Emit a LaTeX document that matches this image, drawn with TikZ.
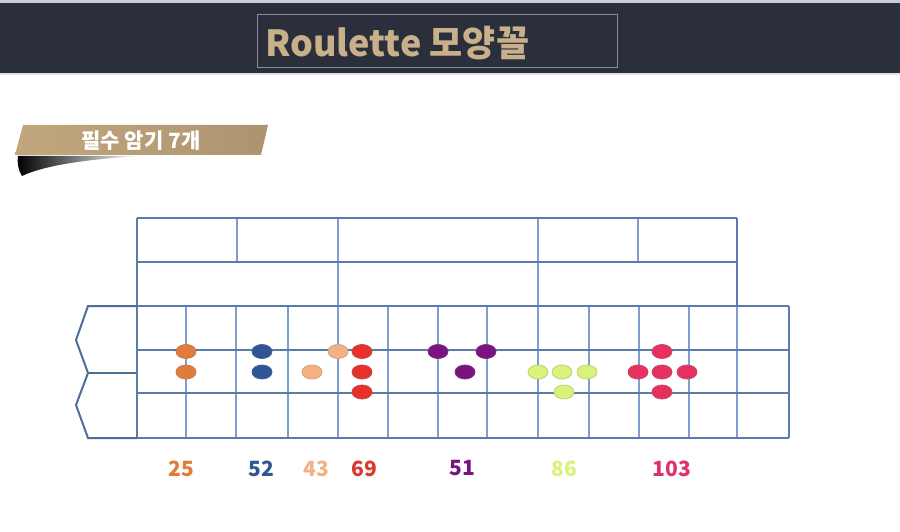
\documentclass[tikz,border=0pt]{standalone}
\usepackage{fontspec}
\setmainfont{Noto Sans CJK KR}
\usetikzlibrary{shapes.geometric}
\definecolor{hdr}{HTML}{2B2E3B}
\definecolor{hdrtop}{HTML}{C9CDD6}
\definecolor{titlec}{HTML}{C8B08A}
\definecolor{boxc}{HTML}{8A8E9A}
\definecolor{gridh}{HTML}{5B7BAB}
\definecolor{gridv}{HTML}{7C9FCF}
\definecolor{zeroc}{HTML}{4F6D96}
\definecolor{cOrange}{HTML}{E07B39}
\definecolor{cBlue}{HTML}{2F5597}
\definecolor{cPeach}{HTML}{F4B183}
\definecolor{cRed}{HTML}{E8302A}
\definecolor{cRedT}{HTML}{D93A2B}
\definecolor{cPurple}{HTML}{7B1280}
\definecolor{cLime}{HTML}{D9F27A}
\definecolor{cPink}{HTML}{E8305F}
\definecolor{cPinkT}{HTML}{E0306A}
\definecolor{banL}{HTML}{C2A77E}
\definecolor{banM}{HTML}{8D7A5B}
\definecolor{banR}{HTML}{AD9471}
\tikzset{
  hline/.style={draw=gridh, line width=2pt},
  vline/.style={draw=gridv, line width=2pt},
  zline/.style={draw=zeroc, line width=2pt, line join=miter},
  chip/.style={ellipse, minimum width=20pt, minimum height=14pt, inner sep=0pt, fill=#1, draw=#1!70!gray, line width=0.8pt},
  numlab/.style={font=\bfseries\fontsize{21}{21}\selectfont, text=#1, inner sep=0pt, anchor=center}
}
\begin{document}
\begin{tikzpicture}[x=1pt,y=-1pt]
\useasboundingbox (0,0) rectangle (900,532);
\fill[white] (0,0) rectangle (900,532);
% header
\fill[hdrtop] (0,0) rectangle (900,3);
\fill[hdr] (0,3) rectangle (900,73);
\fill[hdrtop!60!white] (0,73) rectangle (900,75);
\node[draw=boxc, line width=1pt, minimum width=360pt, minimum height=53pt, inner sep=0pt] (titlebox) at (437,41.5) {};
\node[font=\bfseries\fontsize{36}{36}\selectfont, text=titlec, anchor=west, inner sep=0pt] (title) at (265,43) {Roulette 모양꼴};
% banner shadow
\shade[left color=black, middle color=black!90, right color=white] (18,156) -- (140,156) .. controls (90,159) and (45,165) .. (22,176) .. controls (18,170) and (17,162) .. cycle;
% banner
\shade[left color=banL, middle color=banM, right color=banR] (23,125) -- (268,125) -- (261,155) -- (15,155) -- cycle;
\node[font=\bfseries\fontsize{21}{21}\selectfont, text=white, inner sep=0pt] (banner) at (141,141) {필수 암기 7개};
% upper rows
\foreach \x in {237,338,538,638} \draw[vline] (\x,218) -- (\x,262);
\foreach \x in {338,538} \draw[vline] (\x,262) -- (\x,306);
\draw[hline] (137,218) -- (737,218);
\draw[hline] (137,262) -- (737,262);
\draw[hline] (737,218) -- (737,306);
% main grid
\foreach \x in {186,236,288,338,388,438,487,538,589,639,689,737} \draw[vline] (\x,306) -- (\x,438);
\foreach \y in {306,350,393,438} \draw[hline] (137,\y) -- (789,\y);
\draw[hline] (137,218) -- (137,438);
\draw[hline] (789,306) -- (789,438);
% zero cells
\draw[zline] (137,306) -- (88,306) -- (76,340) -- (88,373) -- (76,405) -- (88,438) -- (137,438);
\draw[zline] (88,373) -- (137,373);
% chips
\node[chip=cOrange] (o1) at (186,351.5) {};
\node[chip=cOrange] (o2) at (186,372) {};
\node[chip=cBlue] (b1) at (262,351.5) {};
\node[chip=cBlue] (b2) at (262,372) {};
\node[chip=cPeach] (p1) at (338,351.5) {};
\node[chip=cPeach] (p2) at (312,372) {};
\node[chip=cRed] (r1) at (362,351.5) {};
\node[chip=cRed] (r2) at (362,372) {};
\node[chip=cRed] (r3) at (362,392) {};
\node[chip=cPurple] (v1) at (438,351.5) {};
\node[chip=cPurple] (v2) at (486,351.5) {};
\node[chip=cPurple] (v3) at (465,372) {};
\node[chip=cLime] (l1) at (538,372) {};
\node[chip=cLime] (l2) at (562,372) {};
\node[chip=cLime] (l3) at (587,372) {};
\node[chip=cLime] (l4) at (564,392) {};
\node[chip=cPink] (k1) at (662,351.5) {};
\node[chip=cPink] (k2) at (638,372) {};
\node[chip=cPink] (k3) at (662,372) {};
\node[chip=cPink] (k4) at (687,372) {};
\node[chip=cPink] (k5) at (662,392) {};
% numbers
\node[numlab=cOrange] (n25) at (181,468.5) {25};
\node[numlab=cBlue] (n52) at (261.5,468.5) {52};
\node[numlab=cPeach] (n43) at (316.5,468.5) {43};
\node[numlab=cRedT] (n69) at (364.5,468.5) {69};
\node[numlab=cPurple] (n51) at (462,468.5) {51};
\node[numlab=cLime] (n86) at (564,468.5) {86};
\node[numlab=cPinkT] (n103) at (672,468.5) {103};
\end{tikzpicture}
\end{document}
